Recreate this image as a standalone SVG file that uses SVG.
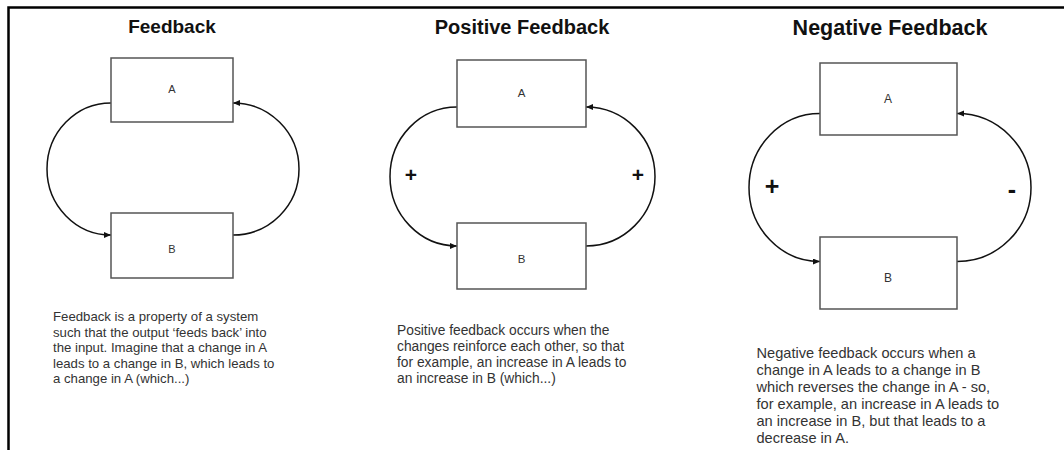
<svg xmlns="http://www.w3.org/2000/svg" width="1064" height="450" viewBox="0 0 1064 450">
<style>
.title{font-family:"Liberation Sans",Arial,sans-serif;font-weight:bold;fill:#111;text-anchor:middle}
.box{fill:#fff;stroke:#555;stroke-width:1.5}
.lbl{font-family:"Liberation Sans",Arial,sans-serif;fill:#333;text-anchor:middle}
.desc{font-family:"Liberation Sans",Arial,sans-serif;fill:#333}
.arc{fill:none;stroke:#111;stroke-width:1.5}
.sign{font-family:"Liberation Sans",Arial,sans-serif;font-weight:bold;fill:#111;text-anchor:middle}
</style>
<defs>
<marker id="ah" markerUnits="userSpaceOnUse" markerWidth="10" markerHeight="8" refX="7" refY="3" orient="auto">
<path d="M0,0 L7,3 L0,6 Z" fill="#111"/>
</marker>
</defs>
<rect width="1064" height="450" fill="#fff"/>
<g id="frame">
<path d="M8.5,450 V7.5 H1064" fill="none" stroke="#000" stroke-width="2.5"/>
</g>

<g id="titles">
<text class="title" x="172" y="33" font-size="19">Feedback</text>
<text class="title" x="522" y="34" font-size="20">Positive Feedback</text>
<text class="title" x="890" y="35" font-size="21.5">Negative Feedback</text>
</g>

<g id="connectors">
<path class="arc" d="M111,103 A64,66 0 0 0 111,235" marker-end="url(#ah)"/>
<path class="arc" d="M233,235 A66,66 0 0 0 233,103" marker-end="url(#ah)"/>
<path class="arc" d="M457,107 A67,69.5 0 0 0 457,246" marker-end="url(#ah)"/>
<path class="arc" d="M586,246 A69,69.5 0 0 0 586,107" marker-end="url(#ah)"/>
<path class="arc" d="M820,113.5 A71,74 0 0 0 820,261.5" marker-end="url(#ah)"/>
<path class="arc" d="M957,261.5 A74,74 0 0 0 957,113.5" marker-end="url(#ah)"/>
</g>

<g id="p1-A"><rect class="box" x="111" y="58" width="122" height="64"/><text class="lbl" x="172" y="93" font-size="11">A</text></g>
<g id="p1-B"><rect class="box" x="111" y="213" width="122" height="65"/><text class="lbl" x="172" y="253" font-size="11">B</text></g>
<g id="p2-A"><rect class="box" x="457" y="60" width="129" height="67"/><text class="lbl" x="521.5" y="97" font-size="11.5">A</text></g>
<g id="p2-B"><rect class="box" x="457" y="223" width="129" height="66"/><text class="lbl" x="521.5" y="263" font-size="11.5">B</text></g>
<g id="p3-A"><rect class="box" x="820" y="63" width="137" height="72"/><text class="lbl" x="888" y="102.5" font-size="12">A</text></g>
<g id="p3-B"><rect class="box" x="820" y="237" width="137" height="72"/><text class="lbl" x="888" y="282" font-size="12">B</text></g>

<g id="signs">
<text class="sign" x="411" y="182" font-size="21">+</text>
<text class="sign" x="638" y="182" font-size="21">+</text>
<text class="sign" x="772" y="195" font-size="25">+</text>
<text class="sign" x="1012" y="198" font-size="25">-</text>
</g>

<g id="p1-text">
<text class="desc" font-size="13.2">
<tspan x="53" y="321">Feedback is a property of a system</tspan>
<tspan x="53" y="336.5">such that the output ‘feeds back’ into</tspan>
<tspan x="53" y="352">the input. Imagine that a change in A</tspan>
<tspan x="53" y="367.5">leads to a change in B, which leads to</tspan>
<tspan x="53" y="383">a change in A (which...)</tspan>
</text>
</g>
<g id="p2-text">
<text class="desc" font-size="13.8">
<tspan x="397" y="335">Positive feedback occurs when the</tspan>
<tspan x="397" y="351">changes reinforce each other, so that</tspan>
<tspan x="397" y="367">for example, an increase in A leads to</tspan>
<tspan x="397" y="383">an increase in B (which...)</tspan>
</text>
</g>
<g id="p3-text">
<text class="desc" font-size="14.6">
<tspan x="756.5" y="358">Negative feedback occurs when a</tspan>
<tspan x="756.5" y="375">change in A leads to a change in B</tspan>
<tspan x="756.5" y="392">which reverses the change in A - so,</tspan>
<tspan x="756.5" y="409">for example, an increase in A leads to</tspan>
<tspan x="756.5" y="426">an increase in B, but that leads to a</tspan>
<tspan x="756.5" y="443">decrease in A.</tspan>
</text>
</g>
</svg>
